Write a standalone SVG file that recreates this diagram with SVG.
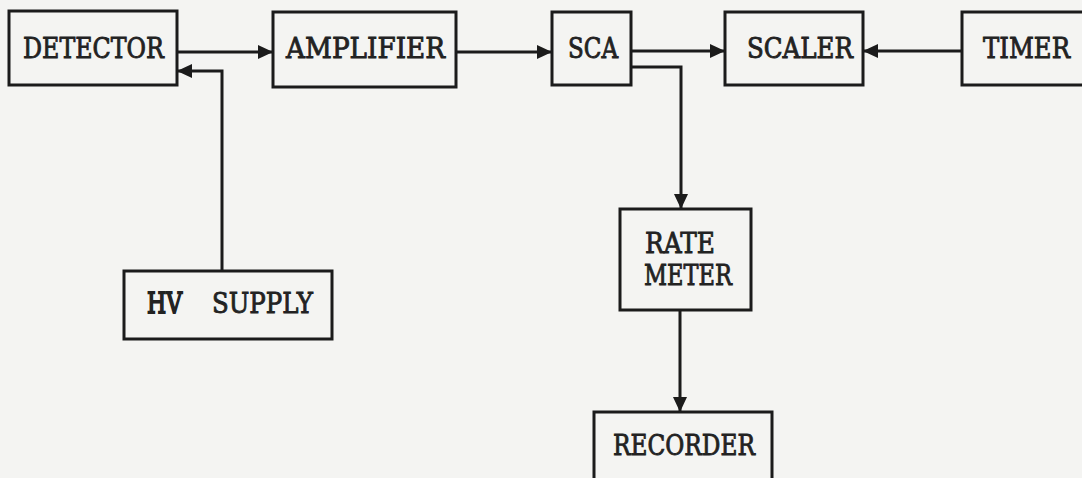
<svg xmlns="http://www.w3.org/2000/svg" width="1082" height="478" viewBox="0 0 1082 478">
<style>
.box{fill:none;stroke:#1b1b1b;stroke-width:3}
.wire{fill:none;stroke:#1b1b1b;stroke-width:3}
.lbl{font-family:"DejaVu Serif","Liberation Serif",serif;font-size:23px;fill:#222;stroke:#222;stroke-width:0.7}
</style>
<defs>
<marker id="ah" markerUnits="userSpaceOnUse" markerWidth="18" markerHeight="18" viewBox="0 0 18 18" refX="16" refY="9" orient="auto">
<path d="M1,2 L16,9 L1,16 Z" fill="#1b1b1b"/>
</marker>
</defs>
<rect width="1082" height="478" fill="#f4f4f2"/>
<g id="detector"><rect class="box" x="9" y="11" width="168" height="74"/><text class="lbl" transform="translate(23,58) scale(1,1.25)" textLength="141" lengthAdjust="spacingAndGlyphs">DETECTOR</text></g>
<g id="amplifier"><rect class="box" x="273" y="12" width="183" height="75"/><text class="lbl" transform="translate(286,58) scale(1,1.25)" textLength="159" lengthAdjust="spacingAndGlyphs">AMPLIFIER</text></g>
<g id="sca"><rect class="box" x="552" y="12" width="79" height="73"/><text class="lbl" transform="translate(568,58) scale(1,1.25)" textLength="50" lengthAdjust="spacingAndGlyphs">SCA</text></g>
<g id="scaler"><rect class="box" x="725" y="12" width="138" height="73"/><text class="lbl" transform="translate(747,58) scale(1,1.25)" textLength="106" lengthAdjust="spacingAndGlyphs">SCALER</text></g>
<g id="timer"><rect class="box" x="962" y="12" width="140" height="73"/><text class="lbl" transform="translate(983,58) scale(1,1.25)" textLength="87" lengthAdjust="spacingAndGlyphs">TIMER</text></g>
<g id="hv-supply"><rect class="box" x="124" y="271" width="208" height="68"/><text class="lbl" transform="translate(147,313) scale(1,1.25)" textLength="35" lengthAdjust="spacingAndGlyphs" style="stroke-width:1.4">HV</text><text class="lbl" transform="translate(212,313) scale(1,1.25)" textLength="101" lengthAdjust="spacingAndGlyphs">SUPPLY</text></g>
<g id="rate-meter"><rect class="box" x="620" y="209" width="131" height="101"/><text class="lbl" transform="translate(645,253) scale(1,1.25)" textLength="70" lengthAdjust="spacingAndGlyphs">RATE</text><text class="lbl" transform="translate(644,285) scale(1,1.25)" textLength="88" lengthAdjust="spacingAndGlyphs">METER</text></g>
<g id="recorder"><rect class="box" x="594" y="412" width="178" height="80"/><text class="lbl" transform="translate(613,455) scale(1,1.25)" textLength="142" lengthAdjust="spacingAndGlyphs">RECORDER</text></g>
<g id="connectors">
<path class="wire" d="M177,52 L273,52" marker-end="url(#ah)"/>
<path class="wire" d="M456,52 L552,52" marker-end="url(#ah)"/>
<path class="wire" d="M631,51 L725,51" marker-end="url(#ah)"/>
<path class="wire" d="M962,51 L863,51" marker-end="url(#ah)"/>
<path class="wire" d="M222,271 L222,71 L177,71" marker-end="url(#ah)"/>
<path class="wire" d="M631,67 L681,67 L681,209" marker-end="url(#ah)"/>
<path class="wire" d="M680,310 L680,412" marker-end="url(#ah)"/>
</g>
</svg>
